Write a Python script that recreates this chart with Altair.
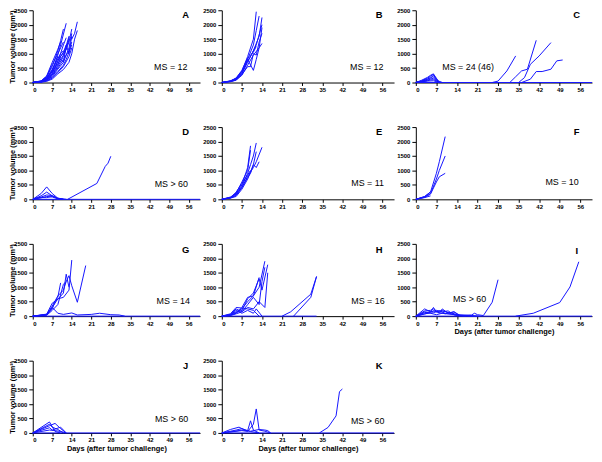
import altair as alt
import pandas as pd

day_ticks = [0, 7, 14, 21, 28, 35, 42, 49, 56]
vol_ticks = [0, 500, 1000, 1500, 2000, 2500]

letters = ["A", "B", "C", "D", "E", "F", "G", "H", "I", "J", "K"]
ms_labels = ["MS = 12", "MS = 12", "MS = 24 (46)", "MS > 60", "MS = 11", "MS = 10",
             "MS = 14", "MS = 16", "MS > 60", "MS > 60", "MS > 60"]
# annotation anchors in data units (day, volume)
ms_anchor_day = [49.5, 50.5, 17.8, 49.7, 50.8, 49.8, 50.4, 50.9, 18.3, 49.8, 50.8]
ms_anchor_vol = [520, 520, 520, 535, 580, 600, 532, 532, 585, 473, 400]
letter_anchor_vol = [2330, 2330, 2330, 2330, 2330, 2330, 2300, 2300, 2260, 2300, 2300]

panel_A = [
    [(0, 0), (3, 60), (5, 200), (7, 550), (9, 1100), (10, 1450), (11, 1850)],
    [(0, 0), (3, 40), (5, 160), (7, 420), (9, 950), (10, 1300), (12, 2050)],
    [(0, 0), (3, 30), (5, 120), (7, 320), (9, 720), (11, 1300), (12, 1550)],
    [(0, 0), (3, 45), (5, 210), (7, 620), (9, 1000), (10, 1200), (11, 1400)],
    [(0, 0), (3, 20), (5, 100), (7, 260), (9, 560), (11, 900), (13, 1400), (14, 1850)],
    [(0, 0), (3, 30), (5, 140), (7, 360), (9, 650), (11, 950), (13, 1600), (14, 1500), (15, 1700), (16, 2100)],
    [(0, 0), (3, 25), (5, 90), (7, 210), (9, 460), (11, 700), (13, 1200), (14, 1700)],
    [(0, 0), (3, 20), (5, 80), (7, 180), (9, 380), (11, 600), (12, 800), (14, 1300)],
    [(0, 0), (3, 35), (5, 170), (7, 460), (9, 820), (10, 1000), (11, 1100)],
    [(0, 0), (3, 30), (5, 130), (7, 380), (9, 760), (11, 1050), (12, 1300), (13, 1000), (14, 1600)],
    [(0, 0), (3, 15), (5, 60), (7, 150), (9, 350), (11, 550), (13, 900), (14, 1200)],
    [(0, 0), (3, 20), (5, 80), (7, 250), (9, 500), (11, 800), (13, 1100), (14, 1400)],
    [(0, 0), (3, 50), (5, 230), (7, 700), (9, 1150), (10, 1400)],
    [(0, 0), (3, 25), (5, 110), (7, 300), (9, 600), (10, 900), (12, 1150), (13, 1550)],
    [(0, 0), (3, 10), (5, 40), (7, 120), (9, 300), (11, 450), (13, 700), (14, 1000), (15, 1500), (16, 1800)],
    [(0, 0), (3, 35), (5, 150), (7, 400), (9, 900), (11, 700), (12, 1250), (13, 1450)],
]
panel_B = [
    [(0, 0), (3, 60), (5, 150), (7, 400), (9, 900), (11, 1500), (12, 2450)],
    [(0, 0), (3, 50), (5, 120), (7, 350), (9, 800), (11, 1300), (12, 1800), (13, 2300)],
    [(0, 0), (3, 40), (5, 100), (7, 300), (9, 700), (11, 1100), (13, 1600), (14, 2250)],
    [(0, 0), (3, 50), (5, 130), (7, 380), (9, 750), (10, 900), (12, 1300), (14, 2000)],
    [(0, 0), (3, 30), (5, 90), (7, 250), (9, 600), (11, 950), (13, 1200), (14, 1350)],
    [(0, 0), (3, 40), (5, 110), (7, 320), (9, 800), (11, 420), (12, 800), (13, 1200), (14, 1900)],
    [(0, 0), (3, 30), (5, 80), (7, 280), (9, 550), (10, 550), (11, 1000), (12, 950), (13, 1400), (14, 1700)],
    [(0, 0), (3, 45), (5, 160), (7, 420), (9, 850), (11, 1050), (12, 1250)],
]
panel_C = [
    [(0, 0), (2, 80), (4, 180), (5, 250), (6, 300), (7, 150), (8, 0)],
    [(0, 0), (2, 60), (4, 150), (5, 220), (6, 280), (7, 100), (8, 0)],
    [(0, 0), (2, 50), (4, 120), (5, 180), (6, 200), (7, 80), (9, 0)],
    [(0, 0), (2, 40), (4, 100), (5, 150), (6, 250), (8, 0)],
    [(0, 0), (2, 30), (4, 80), (5, 120), (6, 150), (7, 60), (8, 0)],
    [(0, 0), (2, 20), (4, 60), (5, 90), (6, 100), (8, 0)],
    [(0, 0), (2, 30), (4, 50), (6, 60), (7, 30), (9, 0)],
    [(26, 0), (28, 50), (31, 400), (34, 920)],
    [(32, 0), (34, 200), (36, 400), (38, 460), (41, 1460)],
    [(35, 0), (37, 170), (39, 630), (42, 920), (46, 1380)],
    [(36, 0), (39, 115), (41, 380), (43, 380), (46, 460), (48, 750), (50, 780)],
    [(0, 0), (60, 0)],
]
panel_D = [
    [(0, 0), (3, 200), (5, 430), (7, 200), (9, 40), (12, 0)],
    [(0, 0), (3, 120), (5, 250), (7, 120), (9, 20), (11, 0)],
    [(0, 0), (3, 80), (5, 150), (7, 130), (9, 40), (11, 0)],
    [(0, 0), (3, 50), (5, 100), (7, 80), (9, 20), (10, 0)],
    [(0, 0), (1, 40), (3, 60), (5, 60), (7, 100), (9, 30), (11, 0)],
    [(12.5, 0), (23, 550), (26, 1140), (27, 1250), (28, 1490)],
    [(0, 0), (60, 0)],
]
panel_E = [
    [(0, 0), (3, 80), (5, 200), (7, 500), (9, 1100), (10, 1850)],
    [(0, 0), (3, 60), (5, 180), (7, 450), (9, 900), (10, 1200), (11, 1500), (12, 1950)],
    [(0, 0), (3, 50), (5, 150), (7, 400), (9, 800), (11, 1100), (12, 1300), (14, 1800)],
    [(0, 0), (3, 70), (5, 220), (7, 600), (9, 1000), (10, 1700)],
    [(0, 0), (3, 40), (5, 100), (7, 350), (9, 700), (11, 1200), (12, 1650)],
    [(0, 0), (3, 50), (5, 130), (7, 420), (9, 750), (10, 900), (11, 1200), (12, 1100), (13, 1300)],
    [(0, 0), (3, 55), (5, 250), (7, 550), (9, 850), (10, 1000)],
]
panel_F = [
    [(0, 0), (3, 100), (5, 250), (7, 900), (8, 1300), (10, 2170)],
    [(0, 0), (3, 80), (5, 200), (7, 700), (8, 1000), (10, 1500)],
    [(0, 0), (3, 70), (5, 180), (7, 600), (8, 780), (10, 900)],
    [(0, 0), (3, 60), (5, 120)],
    [(0, 0), (3, 90), (5, 260)],
]
panel_G = [
    [(0, 0), (5, 50), (7, 300), (9, 600), (11, 650), (13, 900), (14, 1940)],
    [(0, 0), (5, 60), (7, 350), (9, 700), (11, 900), (12, 1200), (13, 1400), (14, 1050), (16, 480), (19, 1750)],
    [(0, 0), (5, 40), (7, 250), (8, 500), (9, 650), (10, 1150)],
    [(0, 0), (5, 70), (7, 450), (9, 580), (11, 800), (12, 1450), (13, 1000)],
    [(0, 0), (5, 30), (7, 200), (9, 400), (11, 1100), (12, 1200)],
    [(0, 0), (5, 50), (7, 300), (9, 100), (11, 60), (14, 110), (16, 40), (21, 60), (24, 100), (28, 50), (31, 40), (33, 0)],
    [(0, 0), (60, 0)],
]
panel_H = [
    [(0, 0), (3, 50), (5, 150), (7, 250), (9, 500), (11, 700), (13, 1000), (15, 1900)],
    [(0, 0), (3, 40), (5, 120), (7, 200), (9, 600), (11, 800), (13, 1300), (14, 900), (16, 1780)],
    [(0, 0), (3, 30), (5, 100), (7, 300), (9, 650), (11, 700), (13, 1340)],
    [(0, 0), (3, 60), (5, 250), (7, 150), (9, 400), (11, 650), (13, 400), (14, 1200), (15, 1690)],
    [(0, 0), (3, 80), (5, 300), (7, 280), (9, 250), (11, 200), (13, 0)],
    [(0, 0), (3, 20), (5, 80), (7, 150), (9, 300), (11, 250), (13, 500), (15, 300), (16, 1500)],
    [(0, 0), (3, 40), (5, 200), (7, 100), (9, 200), (11, 100), (12, 250), (14, 0)],
    [(21, 0), (24, 150), (31, 760), (33, 1370)],
    [(25, 0), (31, 650), (33, 1370)],
    [(0, 0), (33, 0)],
]
panel_I = [
    [(0, 0), (3, 250), (5, 150), (6, 300), (7, 150), (9, 200), (12, 80), (14, 20), (17, 0)],
    [(0, 0), (3, 180), (5, 200), (6, 250), (8, 100), (9, 250), (11, 100), (13, 150), (15, 30), (20, 0)],
    [(0, 0), (3, 120), (5, 150), (7, 200), (9, 150), (11, 180), (13, 50), (16, 10), (21, 0)],
    [(0, 0), (3, 80), (6, 120), (8, 180), (10, 100), (12, 120), (14, 50), (18, 20), (22, 0)],
    [(0, 0), (3, 150), (5, 100), (7, 50), (9, 100), (12, 60), (15, 30), (19, 40), (20, 100), (21, 50), (23, 20), (26, 480), (28, 1260)],
    [(0, 0), (4, 100), (6, 180), (8, 120), (10, 80), (13, 150), (15, 0)],
    [(34, 0), (40, 100), (49, 470), (52.5, 1010), (55.5, 1880)],
    [(0, 0), (60, 0)],
]
panel_J = [
    [(0, 0), (6, 380), (8, 50), (10, 0)],
    [(0, 0), (6, 250), (8, 330), (10, 150), (12, 0)],
    [(0, 0), (6, 180), (7, 100), (10, 200), (12, 0)],
    [(0, 0), (6, 100), (8, 80), (10, 50), (12, 0)],
    [(0, 0), (6, 300), (7, 200), (9, 120), (11, 0)],
    [(0, 0), (60, 0)],
]
panel_K = [
    [(0, 0), (3, 120), (6, 200), (8, 100), (10, 50), (13, 0)],
    [(0, 0), (5, 100), (7, 150), (9, 80), (10, 420), (11, 100), (13, 0)],
    [(0, 0), (7, 80), (9, 50), (11, 300), (12, 830), (13, 100), (15, 60), (17, 0)],
    [(0, 0), (4, 50), (7, 100), (10, 60), (13, 120), (15, 100), (16, 80), (17, 0)],
    [(34, 0), (37, 190), (39.8, 590), (41, 1430), (42, 1520)],
    [(0, 0), (60, 0)],
]

panels = [panel_A, panel_B, panel_C, panel_D, panel_E, panel_F,
          panel_G, panel_H, panel_I, panel_J, panel_K]

col_widths = [169, 174, 178]
FONT = "Liberation Sans"
BLUE = "#1414ff"


def make_panel(idx):
    curves = panels[idx]
    rows = []
    for m, c in enumerate(curves):
        for k, (d, v) in enumerate(c):
            rows.append({"mouse": m, "step": k, "day": d, "vol": v})
    df = pd.DataFrame(rows)
    col = idx % 3
    xtitle = "Days (after tumor challenge)" if idx in (8, 9, 10) else None
    ytitle = "Tumor volume (mm³)" if col == 0 else None
    x = alt.X("day:Q", scale=alt.Scale(domain=[0, 60], nice=False, zero=False),
              axis=alt.Axis(values=day_ticks, title=xtitle, format="d"))
    y = alt.Y("vol:Q", scale=alt.Scale(domain=[0, 2500], nice=False),
              axis=alt.Axis(values=vol_ticks, title=ytitle, format="d"))
    lines = alt.Chart(df).mark_line(color=BLUE, strokeWidth=1).encode(
        x=x, y=y, detail="mouse:N", order="step:Q")
    let_df = pd.DataFrame({"day": [54.8], "vol": [letter_anchor_vol[idx]], "t": [letters[idx]]})
    let_mark = alt.Chart(let_df).mark_text(
        font=FONT, fontSize=9.5, fontWeight="bold", color="black", align="center",
        baseline="middle").encode(x=x, y=y, text="t:N")
    ms_df = pd.DataFrame({"day": [ms_anchor_day[idx]], "vol": [ms_anchor_vol[idx]],
                          "t": [ms_labels[idx]]})
    ms_mark = alt.Chart(ms_df).mark_text(
        font=FONT, fontSize=9, color="black", align="center",
        baseline="middle").encode(x=x, y=y, text="t:N")
    return alt.layer(lines, let_mark, ms_mark).properties(width=col_widths[col], height=73)


chart = alt.concat(*[make_panel(i) for i in range(11)], columns=3,
                   spacing=alt.RowColnumber(row=45, column=22),
                   bounds="flush", align="each").properties(
    padding={"top": -3, "left": 0, "right": 0, "bottom": 0}
).configure_view(stroke=None).configure_axis(
    grid=False, domainColor="black", tickColor="black", labelColor="black",
    titleColor="black", labelFont=FONT, titleFont=FONT, labelFontSize=6,
    labelFontWeight="bold", titleFontSize=7.5, titleFontWeight="bold",
    domainWidth=1, tickWidth=1
).configure_axisX(
    tickSize=3, labelPadding=1, titlePadding=2
).configure_axisY(
    tickSize=4, labelPadding=2, titlePadding=-3
)

chart.save("out.html", embed_options={"renderer": "svg", "actions": False})
